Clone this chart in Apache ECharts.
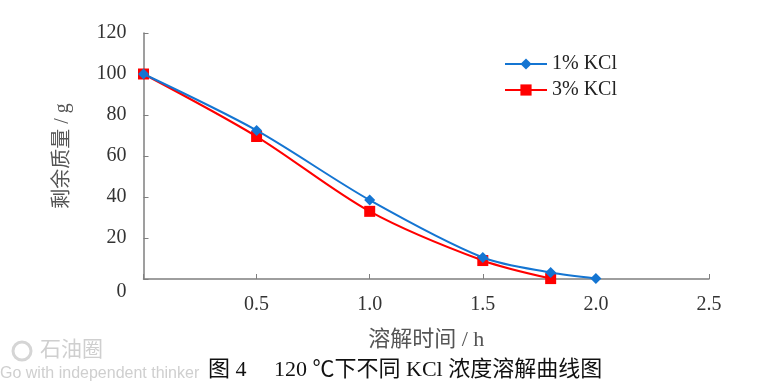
<!DOCTYPE html>
<html><head><meta charset="utf-8">
<script src="https://cdn.jsdelivr.net/npm/echarts@6/dist/echarts.min.js"></script>
<style>html,body{margin:0;padding:0;background:#fff}#c{width:775px;height:387px}</style>
</head><body><div id="c"></div>
<script>
const seriesNames = ['1% KCl', '3% KCl'];
const time1 = [0, 0.5, 1.0, 1.5, 1.8, 2.0];
const mass1 = [100, 72.5, 38.5, 10.5, 3.2, 0.3];
const time3 = [0, 0.5, 1.0, 1.5, 1.8];
const mass3 = [100, 69.5, 33, 9, 0.2];
const xTicks = [0, 0.5, 1.0, 1.5, 2.0, 2.5];
const yTicks = [0, 20, 40, 60, 80, 100, 120];
const xName = '溶解时间 / h';
const yName = '剩余质量 / g';
const caption = '图 4　 120 ℃下不同 KCl 浓度溶解曲线图';
const wmCn = '石油圈';
const wmEn = 'Go with independent thinker';

const serif = '"Liberation Serif", "Noto Sans CJK SC", serif';
const chart = echarts.init(document.getElementById('c'));
const pair = (xs, ys) => xs.map((x, i) => [x, ys[i]]);
chart.setOption({
  animation: false,
  backgroundColor: '#fff',
  grid: { left: 143.5, right: 66, top: 33, bottom: 108 },
  legend: {
    orient: 'vertical', left: 499, top: 49, itemGap: 6,
    itemWidth: 42, itemHeight: 14,
    textStyle: { fontFamily: serif, fontSize: 20, color: '#222' },
    data: seriesNames
  },
  xAxis: {
    type: 'value', min: xTicks[0], max: xTicks[xTicks.length - 1], interval: 0.5,
    name: xName, nameLocation: 'middle', nameGap: 50,
    nameTextStyle: { fontFamily: serif, fontSize: 22, color: '#555' },
    axisLine: { lineStyle: { color: '#7f7f7f', width: 1.5 } },
    axisTick: { inside: true, length: 5, lineStyle: { color: '#7f7f7f' } },
    axisLabel: { margin: 16, fontFamily: serif, fontSize: 20, color: '#333',
      formatter: v => v === 0 ? '' : v.toFixed(1) },
    splitLine: { show: false }
  },
  yAxis: {
    type: 'value', min: yTicks[0], max: yTicks[yTicks.length - 1], interval: 20,
    name: yName, nameLocation: 'middle', nameGap: 71, nameRotate: 90,
    nameTextStyle: { fontFamily: serif, fontSize: 20, color: '#555' },
    axisLine: { show: true, lineStyle: { color: '#7f7f7f', width: 1.5 } },
    axisTick: { show: true, inside: true, length: 5, lineStyle: { color: '#7f7f7f' } },
    axisLabel: { margin: 17, fontFamily: serif, fontSize: 20, color: '#333',
      formatter: v => v === 0 ? '{z|0}' : String(v),
      rich: { z: { padding: [26, 0, 0, 0], fontFamily: serif, fontSize: 20, color: '#333' } } },
    splitLine: { show: false }
  },
  series: [
    { name: seriesNames[0], type: 'line', smooth: 0.3, data: pair(time1, mass1),
      symbol: 'diamond', symbolSize: 11,
      lineStyle: { color: '#1475d2', width: 2 }, itemStyle: { color: '#1475d2' }, z: 3 },
    { name: seriesNames[1], type: 'line', smooth: 0.3, data: pair(time3, mass3),
      symbol: 'rect', symbolSize: 11,
      lineStyle: { color: '#ff0000', width: 2 }, itemStyle: { color: '#ff0000' }, z: 2 }
  ],
  graphic: [
    { type: 'text', left: 208, top: 359, style: { text: caption, fontFamily: serif, fontSize: 22, fill: '#111' } },
    { type: 'text', left: 40, top: 338, style: { text: wmCn, fontFamily: '"Noto Sans CJK SC", sans-serif', fontSize: 21, fill: '#cfcfcf' } },
    { type: 'circle', shape: { cx: 22, cy: 351, r: 9 }, style: { fill: 'none', stroke: '#d5d5d5', lineWidth: 3 } },
    { type: 'text', left: 0, top: 366, style: { text: wmEn, fontFamily: '"Liberation Sans", sans-serif', fontSize: 16, fill: '#cfcfcf' } }
  ]
});
</script></body></html>
